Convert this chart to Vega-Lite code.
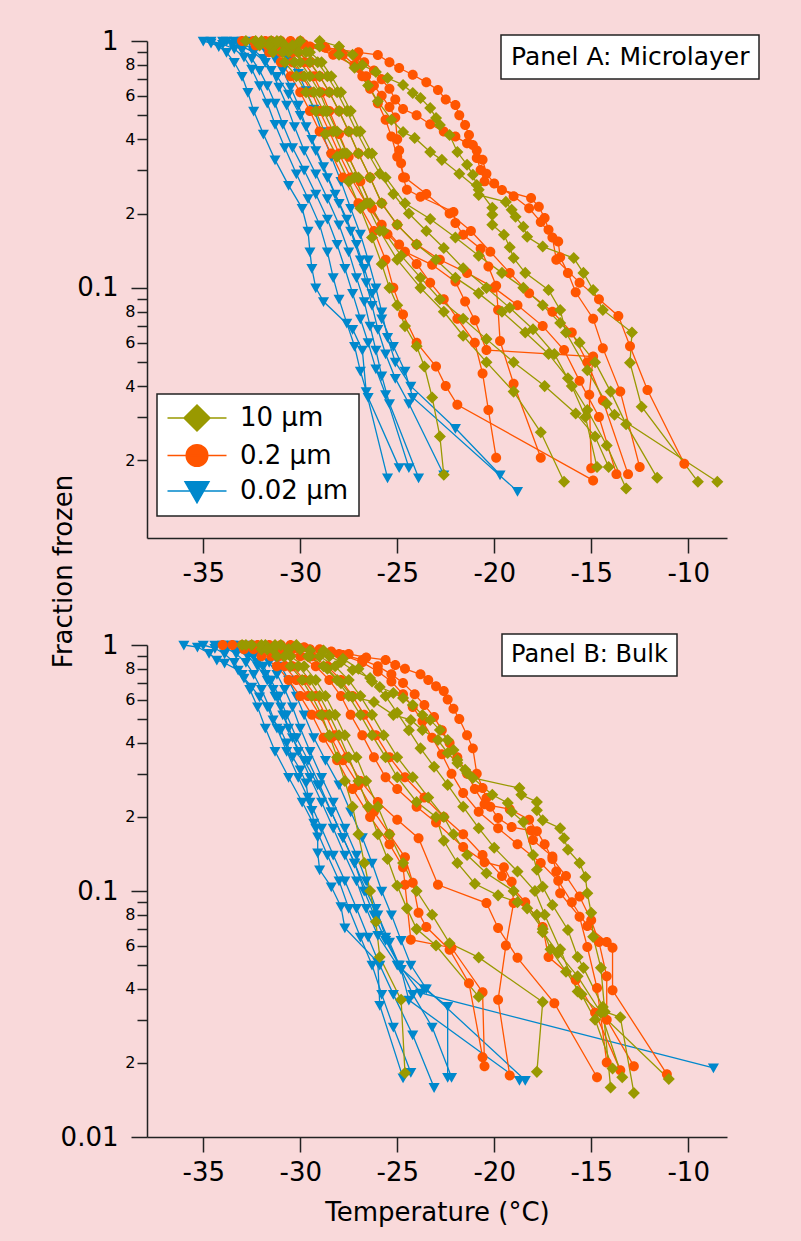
{
"$schema":"https://vega.github.io/schema/vega-lite/v6.json",
"autosize":{"type":"none"},
"padding":{"left":147,"top":41,"right":654,"bottom":1200},
"background":"#f9d9da",
"spacing":107,
"bounds":"flush",
"datasets":{
"la":[{"panel":"Panel A: Microlayer"}],
"lb":[{"panel":"Panel B: Bulk"}],
"A":[
{"s":"b","c":1,"x":-35,"y":1},{"s":"b","c":1,"x":-34.6,"y":0.98},{"s":"b","c":1,"x":-34.2,"y":0.95},{"s":"b","c":1,"x":-33.8,"y":0.9},{"s":"b","c":1,"x":-33.4,"y":0.82},{"s":"b","c":1,"x":-33,"y":0.72},{"s":"b","c":1,"x":-32.7,"y":0.62},{"s":"b","c":1,"x":-32.4,"y":0.52},{"s":"b","c":1,"x":-31.9,"y":0.42},{"s":"b","c":1,"x":-31.3,"y":0.33},{"s":"b","c":1,"x":-30.6,"y":0.26},{"s":"b","c":1,"x":-29.9,"y":0.21},{"s":"b","c":1,"x":-29.6,"y":0.17},{"s":"b","c":1,"x":-29.5,"y":0.14},{"s":"b","c":1,"x":-29.4,"y":0.12},{"s":"b","c":1,"x":-29.2,"y":0.1},{"s":"b","c":1,"x":-28.8,"y":0.088},{"s":"b","c":1,"x":-27.3,"y":0.068},{"s":"b","c":1,"x":-26.8,"y":0.056},{"s":"b","c":1,"x":-26.6,"y":0.038},{"s":"b","c":1,"x":-25.5,"y":0.017},
{"s":"b","c":2,"x":-34.6,"y":1},{"s":"b","c":2,"x":-34,"y":0.97},{"s":"b","c":2,"x":-33.4,"y":0.93},{"s":"b","c":2,"x":-32.9,"y":0.86},{"s":"b","c":2,"x":-32.5,"y":0.77},{"s":"b","c":2,"x":-32.1,"y":0.66},{"s":"b","c":2,"x":-31.7,"y":0.56},{"s":"b","c":2,"x":-31.3,"y":0.46},{"s":"b","c":2,"x":-30.8,"y":0.37},{"s":"b","c":2,"x":-30.2,"y":0.29},{"s":"b","c":2,"x":-29.6,"y":0.23},{"s":"b","c":2,"x":-29,"y":0.18},{"s":"b","c":2,"x":-28.6,"y":0.14},{"s":"b","c":2,"x":-28.3,"y":0.11},{"s":"b","c":2,"x":-28,"y":0.09},{"s":"b","c":2,"x":-27.6,"y":0.072},{"s":"b","c":2,"x":-27.2,"y":0.058},{"s":"b","c":2,"x":-26.9,"y":0.046},{"s":"b","c":2,"x":-26.5,"y":0.036},{"s":"b","c":2,"x":-24.9,"y":0.0187},
{"s":"b","c":3,"x":-34,"y":1},{"s":"b","c":3,"x":-33.5,"y":0.97},{"s":"b","c":3,"x":-33,"y":0.92},{"s":"b","c":3,"x":-32.5,"y":0.85},{"s":"b","c":3,"x":-32.1,"y":0.76},{"s":"b","c":3,"x":-31.7,"y":0.66},{"s":"b","c":3,"x":-31.3,"y":0.56},{"s":"b","c":3,"x":-30.9,"y":0.46},{"s":"b","c":3,"x":-30.4,"y":0.37},{"s":"b","c":3,"x":-29.8,"y":0.3},{"s":"b","c":3,"x":-29.2,"y":0.24},{"s":"b","c":3,"x":-28.6,"y":0.19},{"s":"b","c":3,"x":-28.1,"y":0.15},{"s":"b","c":3,"x":-27.7,"y":0.12},{"s":"b","c":3,"x":-27.3,"y":0.095},{"s":"b","c":3,"x":-26.9,"y":0.075},{"s":"b","c":3,"x":-26.5,"y":0.06},{"s":"b","c":3,"x":-26.1,"y":0.047},{"s":"b","c":3,"x":-25.6,"y":0.037},{"s":"b","c":3,"x":-24.4,"y":0.0187},
{"s":"b","c":4,"x":-33.4,"y":1},{"s":"b","c":4,"x":-32.9,"y":0.97},{"s":"b","c":4,"x":-32.4,"y":0.92},{"s":"b","c":4,"x":-31.9,"y":0.85},{"s":"b","c":4,"x":-31.5,"y":0.76},{"s":"b","c":4,"x":-31.1,"y":0.65},{"s":"b","c":4,"x":-30.7,"y":0.55},{"s":"b","c":4,"x":-30.3,"y":0.45},{"s":"b","c":4,"x":-29.8,"y":0.36},{"s":"b","c":4,"x":-29.2,"y":0.29},{"s":"b","c":4,"x":-28.6,"y":0.23},{"s":"b","c":4,"x":-28,"y":0.18},{"s":"b","c":4,"x":-27.5,"y":0.14},{"s":"b","c":4,"x":-27.1,"y":0.11},{"s":"b","c":4,"x":-26.7,"y":0.088},{"s":"b","c":4,"x":-26.4,"y":0.07},{"s":"b","c":4,"x":-26.1,"y":0.056},{"s":"b","c":4,"x":-25.8,"y":0.044},{"s":"b","c":4,"x":-25.4,"y":0.034},{"s":"b","c":4,"x":-23.9,"y":0.017},
{"s":"b","c":5,"x":-33,"y":1},{"s":"b","c":5,"x":-32.4,"y":0.97},{"s":"b","c":5,"x":-31.8,"y":0.92},{"s":"b","c":5,"x":-31.3,"y":0.85},{"s":"b","c":5,"x":-30.9,"y":0.76},{"s":"b","c":5,"x":-30.5,"y":0.65},{"s":"b","c":5,"x":-30.1,"y":0.55},{"s":"b","c":5,"x":-29.7,"y":0.45},{"s":"b","c":5,"x":-29.2,"y":0.36},{"s":"b","c":5,"x":-28.6,"y":0.28},{"s":"b","c":5,"x":-28,"y":0.22},{"s":"b","c":5,"x":-27.4,"y":0.17},{"s":"b","c":5,"x":-26.9,"y":0.13},{"s":"b","c":5,"x":-26.6,"y":0.105},{"s":"b","c":5,"x":-26.3,"y":0.085},{"s":"b","c":5,"x":-26,"y":0.068},{"s":"b","c":5,"x":-25.6,"y":0.054},{"s":"b","c":5,"x":-25.1,"y":0.043},{"s":"b","c":5,"x":-24.4,"y":0.034},{"s":"b","c":5,"x":-22.6,"y":0.0175},
{"s":"b","c":6,"x":-32.6,"y":1},{"s":"b","c":6,"x":-31.9,"y":0.97},{"s":"b","c":6,"x":-31.2,"y":0.92},{"s":"b","c":6,"x":-30.6,"y":0.84},{"s":"b","c":6,"x":-30.1,"y":0.74},{"s":"b","c":6,"x":-29.7,"y":0.63},{"s":"b","c":6,"x":-29.3,"y":0.53},{"s":"b","c":6,"x":-28.9,"y":0.43},{"s":"b","c":6,"x":-28.4,"y":0.34},{"s":"b","c":6,"x":-27.9,"y":0.27},{"s":"b","c":6,"x":-27.4,"y":0.21},{"s":"b","c":6,"x":-26.9,"y":0.165},{"s":"b","c":6,"x":-26.5,"y":0.13},{"s":"b","c":6,"x":-26.1,"y":0.1},{"s":"b","c":6,"x":-25.8,"y":0.08},{"s":"b","c":6,"x":-25.5,"y":0.063},{"s":"b","c":6,"x":-25.1,"y":0.05},{"s":"b","c":6,"x":-24.3,"y":0.04},{"s":"b","c":6,"x":-22,"y":0.027},{"s":"b","c":6,"x":-19.7,"y":0.0175},
{"s":"b","c":7,"x":-33.8,"y":1},{"s":"b","c":7,"x":-33.1,"y":0.96},{"s":"b","c":7,"x":-32.4,"y":0.9},{"s":"b","c":7,"x":-31.8,"y":0.82},{"s":"b","c":7,"x":-31.2,"y":0.72},{"s":"b","c":7,"x":-30.6,"y":0.61},{"s":"b","c":7,"x":-30,"y":0.5},{"s":"b","c":7,"x":-29.4,"y":0.4},{"s":"b","c":7,"x":-28.8,"y":0.31},{"s":"b","c":7,"x":-28.2,"y":0.24},{"s":"b","c":7,"x":-27.6,"y":0.19},{"s":"b","c":7,"x":-27.1,"y":0.15},{"s":"b","c":7,"x":-26.7,"y":0.12},{"s":"b","c":7,"x":-26.3,"y":0.095},{"s":"b","c":7,"x":-25.8,"y":0.075},{"s":"b","c":7,"x":-25.2,"y":0.058},{"s":"b","c":7,"x":-24.6,"y":0.046},{"s":"b","c":7,"x":-24.2,"y":0.036},{"s":"b","c":7,"x":-18.8,"y":0.015},
{"s":"o","c":1,"x":-30.5,"y":1},{"s":"o","c":1,"x":-28.7,"y":0.94},{"s":"o","c":1,"x":-27,"y":0.9},{"s":"o","c":1,"x":-26,"y":0.878},{"s":"o","c":1,"x":-25.4,"y":0.82},{"s":"o","c":1,"x":-24.9,"y":0.777},{"s":"o","c":1,"x":-24.2,"y":0.73},{"s":"o","c":1,"x":-23.5,"y":0.68},{"s":"o","c":1,"x":-22.9,"y":0.633},{"s":"o","c":1,"x":-22.5,"y":0.58},{"s":"o","c":1,"x":-22,"y":0.55},{"s":"o","c":1,"x":-21.8,"y":0.5},{"s":"o","c":1,"x":-21.5,"y":0.457},{"s":"o","c":1,"x":-21.3,"y":0.416},{"s":"o","c":1,"x":-21.1,"y":0.379},{"s":"o","c":1,"x":-20.9,"y":0.336},{"s":"o","c":1,"x":-20.7,"y":0.3},{"s":"o","c":1,"x":-20.5,"y":0.27},{"s":"o","c":1,"x":-19.6,"y":0.249},{"s":"o","c":1,"x":-18.1,"y":0.231},{"s":"o","c":1,"x":-17.7,"y":0.213},{"s":"o","c":1,"x":-17.4,"y":0.192},{"s":"o","c":1,"x":-17.2,"y":0.172},{"s":"o","c":1,"x":-16.7,"y":0.154},{"s":"o","c":1,"x":-16.6,"y":0.133},{"s":"o","c":1,"x":-16.2,"y":0.115},{"s":"o","c":1,"x":-15.8,"y":0.096},{"s":"o","c":1,"x":-14.9,"y":0.075},{"s":"o","c":1,"x":-14.4,"y":0.057},{"s":"o","c":1,"x":-13.5,"y":0.038},{"s":"o","c":1,"x":-12.5,"y":0.0188},
{"s":"o","c":2,"x":-31.5,"y":1},{"s":"o","c":2,"x":-29.8,"y":0.97},{"s":"o","c":2,"x":-28,"y":0.92},{"s":"o","c":2,"x":-27.1,"y":0.87},{"s":"o","c":2,"x":-26.7,"y":0.82},{"s":"o","c":2,"x":-26.2,"y":0.76},{"s":"o","c":2,"x":-25.8,"y":0.7},{"s":"o","c":2,"x":-25.4,"y":0.64},{"s":"o","c":2,"x":-25.1,"y":0.58},{"s":"o","c":2,"x":-24.7,"y":0.53},{"s":"o","c":2,"x":-24,"y":0.5},{"s":"o","c":2,"x":-23.3,"y":0.46},{"s":"o","c":2,"x":-22.6,"y":0.43},{"s":"o","c":2,"x":-22,"y":0.41},{"s":"o","c":2,"x":-21.4,"y":0.385},{"s":"o","c":2,"x":-20.9,"y":0.36},{"s":"o","c":2,"x":-20.6,"y":0.33},{"s":"o","c":2,"x":-20.4,"y":0.29},{"s":"o","c":2,"x":-20,"y":0.265},{"s":"o","c":2,"x":-19,"y":0.235},{"s":"o","c":2,"x":-18.2,"y":0.21},{"s":"o","c":2,"x":-17.6,"y":0.185},{"s":"o","c":2,"x":-17,"y":0.16},{"s":"o","c":2,"x":-16.8,"y":0.13},{"s":"o","c":2,"x":-15.6,"y":0.105},{"s":"o","c":2,"x":-14.6,"y":0.09},{"s":"o","c":2,"x":-13.6,"y":0.077},{"s":"o","c":2,"x":-13,"y":0.058},{"s":"o","c":2,"x":-12.1,"y":0.0386},{"s":"o","c":2,"x":-10.2,"y":0.0194},
{"s":"o","c":3,"x":-31,"y":1},{"s":"o","c":3,"x":-29.5,"y":0.95},{"s":"o","c":3,"x":-28.3,"y":0.88},{"s":"o","c":3,"x":-27,"y":0.78},{"s":"o","c":3,"x":-26.6,"y":0.72},{"s":"o","c":3,"x":-26.2,"y":0.66},{"s":"o","c":3,"x":-25.8,"y":0.6},{"s":"o","c":3,"x":-25.4,"y":0.54},{"s":"o","c":3,"x":-25.1,"y":0.49},{"s":"o","c":3,"x":-25,"y":0.4},{"s":"o","c":3,"x":-24.9,"y":0.36},{"s":"o","c":3,"x":-24.8,"y":0.32},{"s":"o","c":3,"x":-24.7,"y":0.28},{"s":"o","c":3,"x":-24.5,"y":0.25},{"s":"o","c":3,"x":-23.8,"y":0.234},{"s":"o","c":3,"x":-22.1,"y":0.203},{"s":"o","c":3,"x":-22,"y":0.183},{"s":"o","c":3,"x":-21.6,"y":0.164},{"s":"o","c":3,"x":-20.7,"y":0.144},{"s":"o","c":3,"x":-20.3,"y":0.122},{"s":"o","c":3,"x":-19.9,"y":0.102},{"s":"o","c":3,"x":-19.8,"y":0.0813},{"s":"o","c":3,"x":-19.7,"y":0.0609},{"s":"o","c":3,"x":-19,"y":0.0409},{"s":"o","c":3,"x":-17.6,"y":0.0205},
{"s":"o","c":4,"x":-33,"y":1},{"s":"o","c":4,"x":-32.3,"y":0.96},{"s":"o","c":4,"x":-31.6,"y":0.9},{"s":"o","c":4,"x":-31,"y":0.82},{"s":"o","c":4,"x":-30.5,"y":0.72},{"s":"o","c":4,"x":-30,"y":0.62},{"s":"o","c":4,"x":-29.5,"y":0.52},{"s":"o","c":4,"x":-29,"y":0.43},{"s":"o","c":4,"x":-28.4,"y":0.35},{"s":"o","c":4,"x":-27.8,"y":0.28},{"s":"o","c":4,"x":-27,"y":0.22},{"s":"o","c":4,"x":-26.2,"y":0.17},{"s":"o","c":4,"x":-25.6,"y":0.13},{"s":"o","c":4,"x":-25.2,"y":0.1},{"s":"o","c":4,"x":-24.7,"y":0.078},{"s":"o","c":4,"x":-24,"y":0.06},{"s":"o","c":4,"x":-23,"y":0.048},{"s":"o","c":4,"x":-22.5,"y":0.04},{"s":"o","c":4,"x":-21.9,"y":0.0336},{"s":"o","c":4,"x":-14.9,"y":0.0166},
{"s":"o","c":5,"x":-32.4,"y":1},{"s":"o","c":5,"x":-31.7,"y":0.96},{"s":"o","c":5,"x":-31,"y":0.9},{"s":"o","c":5,"x":-30.4,"y":0.82},{"s":"o","c":5,"x":-29.9,"y":0.72},{"s":"o","c":5,"x":-29.4,"y":0.62},{"s":"o","c":5,"x":-29,"y":0.52},{"s":"o","c":5,"x":-28.5,"y":0.43},{"s":"o","c":5,"x":-28,"y":0.35},{"s":"o","c":5,"x":-27.4,"y":0.28},{"s":"o","c":5,"x":-26.6,"y":0.22},{"s":"o","c":5,"x":-25.8,"y":0.18},{"s":"o","c":5,"x":-24.9,"y":0.15},{"s":"o","c":5,"x":-24,"y":0.125},{"s":"o","c":5,"x":-23.3,"y":0.105},{"s":"o","c":5,"x":-22.6,"y":0.09},{"s":"o","c":5,"x":-21.9,"y":0.075},{"s":"o","c":5,"x":-21,"y":0.06},{"s":"o","c":5,"x":-20.6,"y":0.045},{"s":"o","c":5,"x":-20.3,"y":0.032},{"s":"o","c":5,"x":-19.9,"y":0.0205},
{"s":"o","c":6,"x":-31.8,"y":1},{"s":"o","c":6,"x":-31.1,"y":0.96},{"s":"o","c":6,"x":-30.4,"y":0.9},{"s":"o","c":6,"x":-29.8,"y":0.82},{"s":"o","c":6,"x":-29.3,"y":0.72},{"s":"o","c":6,"x":-28.9,"y":0.62},{"s":"o","c":6,"x":-28.5,"y":0.52},{"s":"o","c":6,"x":-28,"y":0.42},{"s":"o","c":6,"x":-27.5,"y":0.34},{"s":"o","c":6,"x":-26.9,"y":0.27},{"s":"o","c":6,"x":-26.3,"y":0.21},{"s":"o","c":6,"x":-25.5,"y":0.165},{"s":"o","c":6,"x":-24.6,"y":0.14},{"s":"o","c":6,"x":-23.2,"y":0.124},{"s":"o","c":6,"x":-22,"y":0.106},{"s":"o","c":6,"x":-21.5,"y":0.088},{"s":"o","c":6,"x":-21,"y":0.074},{"s":"o","c":6,"x":-20.4,"y":0.056},{"s":"o","c":6,"x":-14.9,"y":0.0527},{"s":"o","c":6,"x":-15.1,"y":0.0369},{"s":"o","c":6,"x":-15,"y":0.0186},
{"s":"o","c":7,"x":-31.5,"y":1},{"s":"o","c":7,"x":-30.8,"y":0.96},{"s":"o","c":7,"x":-30.1,"y":0.9},{"s":"o","c":7,"x":-29.5,"y":0.82},{"s":"o","c":7,"x":-29,"y":0.72},{"s":"o","c":7,"x":-28.5,"y":0.62},{"s":"o","c":7,"x":-28,"y":0.52},{"s":"o","c":7,"x":-27.5,"y":0.43},{"s":"o","c":7,"x":-27,"y":0.35},{"s":"o","c":7,"x":-26.4,"y":0.28},{"s":"o","c":7,"x":-25.8,"y":0.22},{"s":"o","c":7,"x":-25,"y":0.18},{"s":"o","c":7,"x":-24,"y":0.15},{"s":"o","c":7,"x":-22.8,"y":0.13},{"s":"o","c":7,"x":-21.4,"y":0.115},{"s":"o","c":7,"x":-20,"y":0.1},{"s":"o","c":7,"x":-18.8,"y":0.085},{"s":"o","c":7,"x":-17.5,"y":0.07},{"s":"o","c":7,"x":-16.4,"y":0.056},{"s":"o","c":7,"x":-15.6,"y":0.042},{"s":"o","c":7,"x":-14.6,"y":0.03},{"s":"o","c":7,"x":-13.7,"y":0.0176},
{"s":"o","c":8,"x":-30,"y":1},{"s":"o","c":8,"x":-28.8,"y":0.95},{"s":"o","c":8,"x":-27.8,"y":0.88},{"s":"o","c":8,"x":-27.2,"y":0.8},{"s":"o","c":8,"x":-26.8,"y":0.72},{"s":"o","c":8,"x":-26.4,"y":0.64},{"s":"o","c":8,"x":-26,"y":0.56},{"s":"o","c":8,"x":-25.6,"y":0.48},{"s":"o","c":8,"x":-25.3,"y":0.41},{"s":"o","c":8,"x":-25,"y":0.34},{"s":"o","c":8,"x":-24.6,"y":0.28},{"s":"o","c":8,"x":-23.5,"y":0.24},{"s":"o","c":8,"x":-22.3,"y":0.2},{"s":"o","c":8,"x":-21.2,"y":0.17},{"s":"o","c":8,"x":-20.2,"y":0.14},{"s":"o","c":8,"x":-19.2,"y":0.115},{"s":"o","c":8,"x":-18.2,"y":0.095},{"s":"o","c":8,"x":-17,"y":0.08},{"s":"o","c":8,"x":-16,"y":0.066},{"s":"o","c":8,"x":-15.2,"y":0.05},{"s":"o","c":8,"x":-14.4,"y":0.035},{"s":"o","c":8,"x":-13.1,"y":0.0176},
{"s":"g","c":1,"x":-29,"y":1},{"s":"g","c":1,"x":-28,"y":0.95},{"s":"g","c":1,"x":-27.3,"y":0.88},{"s":"g","c":1,"x":-26.8,"y":0.8},{"s":"g","c":1,"x":-26.1,"y":0.749},{"s":"g","c":1,"x":-25.5,"y":0.708},{"s":"g","c":1,"x":-24.7,"y":0.664},{"s":"g","c":1,"x":-24.2,"y":0.616},{"s":"g","c":1,"x":-23.8,"y":0.588},{"s":"g","c":1,"x":-23.3,"y":0.535},{"s":"g","c":1,"x":-23,"y":0.488},{"s":"g","c":1,"x":-22.8,"y":0.457},{"s":"g","c":1,"x":-22.3,"y":0.416},{"s":"g","c":1,"x":-21.9,"y":0.355},{"s":"g","c":1,"x":-21.4,"y":0.315},{"s":"g","c":1,"x":-21.1,"y":0.287},{"s":"g","c":1,"x":-20.9,"y":0.261},{"s":"g","c":1,"x":-20.8,"y":0.238},{"s":"g","c":1,"x":-19.4,"y":0.223},{"s":"g","c":1,"x":-19.1,"y":0.207},{"s":"g","c":1,"x":-18.9,"y":0.194},{"s":"g","c":1,"x":-18.5,"y":0.177},{"s":"g","c":1,"x":-18.3,"y":0.161},{"s":"g","c":1,"x":-17.5,"y":0.147},{"s":"g","c":1,"x":-15.9,"y":0.132},{"s":"g","c":1,"x":-15.4,"y":0.115},{"s":"g","c":1,"x":-14.9,"y":0.098},{"s":"g","c":1,"x":-14.4,"y":0.0814},{"s":"g","c":1,"x":-12.9,"y":0.0659},{"s":"g","c":1,"x":-13,"y":0.0497},{"s":"g","c":1,"x":-12.4,"y":0.033},{"s":"g","c":1,"x":-9.5,"y":0.0164},
{"s":"g","c":2,"x":-30,"y":1},{"s":"g","c":2,"x":-29,"y":0.95},{"s":"g","c":2,"x":-28,"y":0.88},{"s":"g","c":2,"x":-27.2,"y":0.78},{"s":"g","c":2,"x":-26.5,"y":0.66},{"s":"g","c":2,"x":-26,"y":0.57},{"s":"g","c":2,"x":-25.3,"y":0.48},{"s":"g","c":2,"x":-24.7,"y":0.428},{"s":"g","c":2,"x":-24.1,"y":0.405},{"s":"g","c":2,"x":-23.3,"y":0.355},{"s":"g","c":2,"x":-22.7,"y":0.33},{"s":"g","c":2,"x":-21.8,"y":0.29},{"s":"g","c":2,"x":-20.8,"y":0.25},{"s":"g","c":2,"x":-20.1,"y":0.211},{"s":"g","c":2,"x":-20.1,"y":0.198},{"s":"g","c":2,"x":-20.1,"y":0.18},{"s":"g","c":2,"x":-19.5,"y":0.164},{"s":"g","c":2,"x":-19.2,"y":0.146},{"s":"g","c":2,"x":-19,"y":0.132},{"s":"g","c":2,"x":-18.4,"y":0.115},{"s":"g","c":2,"x":-17.2,"y":0.098},{"s":"g","c":2,"x":-16.6,"y":0.0814},{"s":"g","c":2,"x":-16.3,"y":0.0659},{"s":"g","c":2,"x":-15.2,"y":0.0464},{"s":"g","c":2,"x":-14.2,"y":0.0339},{"s":"g","c":2,"x":-13.8,"y":0.0306},{"s":"g","c":2,"x":-8.5,"y":0.0164},
{"s":"g","c":3,"x":-31,"y":1},{"s":"g","c":3,"x":-30.2,"y":0.96},{"s":"g","c":3,"x":-29.5,"y":0.9},{"s":"g","c":3,"x":-28.9,"y":0.82},{"s":"g","c":3,"x":-28.4,"y":0.72},{"s":"g","c":3,"x":-27.9,"y":0.62},{"s":"g","c":3,"x":-27.4,"y":0.52},{"s":"g","c":3,"x":-26.9,"y":0.43},{"s":"g","c":3,"x":-26.3,"y":0.35},{"s":"g","c":3,"x":-25.6,"y":0.28},{"s":"g","c":3,"x":-24.6,"y":0.22},{"s":"g","c":3,"x":-23.3,"y":0.19},{"s":"g","c":3,"x":-22,"y":0.16},{"s":"g","c":3,"x":-20.8,"y":0.135},{"s":"g","c":3,"x":-19.6,"y":0.115},{"s":"g","c":3,"x":-18.5,"y":0.1},{"s":"g","c":3,"x":-17.5,"y":0.085},{"s":"g","c":3,"x":-16.6,"y":0.072},{"s":"g","c":3,"x":-15.6,"y":0.06},{"s":"g","c":3,"x":-14.8,"y":0.05},{"s":"g","c":3,"x":-14,"y":0.038},{"s":"g","c":3,"x":-13.2,"y":0.028},{"s":"g","c":3,"x":-11.6,"y":0.017},
{"s":"g","c":4,"x":-31.5,"y":1},{"s":"g","c":4,"x":-30.8,"y":0.96},{"s":"g","c":4,"x":-30.1,"y":0.9},{"s":"g","c":4,"x":-29.5,"y":0.82},{"s":"g","c":4,"x":-29,"y":0.72},{"s":"g","c":4,"x":-28.5,"y":0.62},{"s":"g","c":4,"x":-28,"y":0.52},{"s":"g","c":4,"x":-27.5,"y":0.43},{"s":"g","c":4,"x":-27,"y":0.35},{"s":"g","c":4,"x":-26.4,"y":0.28},{"s":"g","c":4,"x":-25.8,"y":0.22},{"s":"g","c":4,"x":-25,"y":0.18},{"s":"g","c":4,"x":-24,"y":0.15},{"s":"g","c":4,"x":-23,"y":0.13},{"s":"g","c":4,"x":-22,"y":0.11},{"s":"g","c":4,"x":-20.8,"y":0.095},{"s":"g","c":4,"x":-19.6,"y":0.08},{"s":"g","c":4,"x":-18.4,"y":0.066},{"s":"g","c":4,"x":-17.2,"y":0.054},{"s":"g","c":4,"x":-16.2,"y":0.043},{"s":"g","c":4,"x":-15.2,"y":0.032},{"s":"g","c":4,"x":-14.2,"y":0.023},{"s":"g","c":4,"x":-13.2,"y":0.0154},
{"s":"g","c":5,"x":-32,"y":1},{"s":"g","c":5,"x":-31.3,"y":0.96},{"s":"g","c":5,"x":-30.6,"y":0.9},{"s":"g","c":5,"x":-30,"y":0.82},{"s":"g","c":5,"x":-29.5,"y":0.72},{"s":"g","c":5,"x":-29,"y":0.62},{"s":"g","c":5,"x":-28.6,"y":0.52},{"s":"g","c":5,"x":-28.1,"y":0.43},{"s":"g","c":5,"x":-27.6,"y":0.35},{"s":"g","c":5,"x":-27,"y":0.28},{"s":"g","c":5,"x":-26.4,"y":0.22},{"s":"g","c":5,"x":-25.7,"y":0.17},{"s":"g","c":5,"x":-24.8,"y":0.135},{"s":"g","c":5,"x":-23.8,"y":0.11},{"s":"g","c":5,"x":-22.8,"y":0.09},{"s":"g","c":5,"x":-21.6,"y":0.075},{"s":"g","c":5,"x":-20.4,"y":0.062},{"s":"g","c":5,"x":-19,"y":0.05},{"s":"g","c":5,"x":-17.4,"y":0.04},{"s":"g","c":5,"x":-15.8,"y":0.031},{"s":"g","c":5,"x":-14.8,"y":0.025},{"s":"g","c":5,"x":-14.1,"y":0.0188},
{"s":"g","c":6,"x":-32.3,"y":1},{"s":"g","c":6,"x":-31.6,"y":0.96},{"s":"g","c":6,"x":-30.9,"y":0.9},{"s":"g","c":6,"x":-30.3,"y":0.82},{"s":"g","c":6,"x":-29.8,"y":0.72},{"s":"g","c":6,"x":-29.3,"y":0.62},{"s":"g","c":6,"x":-28.8,"y":0.52},{"s":"g","c":6,"x":-28.3,"y":0.43},{"s":"g","c":6,"x":-27.8,"y":0.35},{"s":"g","c":6,"x":-27.2,"y":0.28},{"s":"g","c":6,"x":-26.6,"y":0.22},{"s":"g","c":6,"x":-25.9,"y":0.17},{"s":"g","c":6,"x":-25,"y":0.13},{"s":"g","c":6,"x":-23.8,"y":0.1},{"s":"g","c":6,"x":-22.6,"y":0.08},{"s":"g","c":6,"x":-21.6,"y":0.064},{"s":"g","c":6,"x":-20.4,"y":0.05},{"s":"g","c":6,"x":-19,"y":0.038},{"s":"g","c":6,"x":-17.6,"y":0.026},{"s":"g","c":6,"x":-16.4,"y":0.0164},
{"s":"g","c":7,"x":-32.8,"y":1},{"s":"g","c":7,"x":-32.1,"y":0.96},{"s":"g","c":7,"x":-31.4,"y":0.9},{"s":"g","c":7,"x":-30.8,"y":0.82},{"s":"g","c":7,"x":-30.2,"y":0.72},{"s":"g","c":7,"x":-29.7,"y":0.62},{"s":"g","c":7,"x":-29.2,"y":0.52},{"s":"g","c":7,"x":-28.7,"y":0.42},{"s":"g","c":7,"x":-28.1,"y":0.34},{"s":"g","c":7,"x":-27.5,"y":0.27},{"s":"g","c":7,"x":-26.9,"y":0.21},{"s":"g","c":7,"x":-26.3,"y":0.16},{"s":"g","c":7,"x":-25.8,"y":0.125},{"s":"g","c":7,"x":-25.4,"y":0.1},{"s":"g","c":7,"x":-25,"y":0.085},{"s":"g","c":7,"x":-24.6,"y":0.07},{"s":"g","c":7,"x":-24,"y":0.058},{"s":"g","c":7,"x":-23.6,"y":0.048},{"s":"g","c":7,"x":-23.2,"y":0.036},{"s":"g","c":7,"x":-22.8,"y":0.025},{"s":"g","c":7,"x":-22.6,"y":0.0175},
{"s":"g","c":8,"x":-31.2,"y":1},{"s":"g","c":8,"x":-30.4,"y":0.96},{"s":"g","c":8,"x":-29.7,"y":0.9},{"s":"g","c":8,"x":-29.1,"y":0.82},{"s":"g","c":8,"x":-28.6,"y":0.72},{"s":"g","c":8,"x":-28.1,"y":0.62},{"s":"g","c":8,"x":-27.6,"y":0.52},{"s":"g","c":8,"x":-27.1,"y":0.43},{"s":"g","c":8,"x":-26.5,"y":0.35},{"s":"g","c":8,"x":-25.9,"y":0.29},{"s":"g","c":8,"x":-25.2,"y":0.24},{"s":"g","c":8,"x":-24.4,"y":0.2},{"s":"g","c":8,"x":-23.5,"y":0.17},{"s":"g","c":8,"x":-22.6,"y":0.145},{"s":"g","c":8,"x":-21.6,"y":0.12},{"s":"g","c":8,"x":-20.4,"y":0.1},{"s":"g","c":8,"x":-19.2,"y":0.083},{"s":"g","c":8,"x":-18,"y":0.068},{"s":"g","c":8,"x":-16.9,"y":0.054},{"s":"g","c":8,"x":-16,"y":0.04},{"s":"g","c":8,"x":-15.3,"y":0.03},{"s":"g","c":8,"x":-14.7,"y":0.0188}
],
"B":[
{"s":"b","c":1,"x":-36,"y":1},{"s":"b","c":1,"x":-35.3,"y":0.981},{"s":"b","c":1,"x":-34.7,"y":0.926},{"s":"b","c":1,"x":-34.3,"y":0.869},{"s":"b","c":1,"x":-33.9,"y":0.845},{"s":"b","c":1,"x":-33.2,"y":0.791},{"s":"b","c":1,"x":-32.9,"y":0.734},{"s":"b","c":1,"x":-32.5,"y":0.675},{"s":"b","c":1,"x":-32.1,"y":0.615},{"s":"b","c":1,"x":-31.7,"y":0.56},{"s":"b","c":1,"x":-31.4,"y":0.496},{"s":"b","c":1,"x":-31,"y":0.451},{"s":"b","c":1,"x":-30.7,"y":0.4},{"s":"b","c":1,"x":-30.4,"y":0.351},{"s":"b","c":1,"x":-30,"y":0.311},{"s":"b","c":1,"x":-29.7,"y":0.275},{"s":"b","c":1,"x":-29.6,"y":0.241},{"s":"b","c":1,"x":-29.4,"y":0.213},{"s":"b","c":1,"x":-29.3,"y":0.189},{"s":"b","c":1,"x":-29.1,"y":0.166},{"s":"b","c":1,"x":-29.1,"y":0.143},{"s":"b","c":1,"x":-29,"y":0.122},{"s":"b","c":1,"x":-28.4,"y":0.104},{"s":"b","c":1,"x":-27.9,"y":0.0864},{"s":"b","c":1,"x":-27.7,"y":0.0708},{"s":"b","c":1,"x":-26,"y":0.0513},{"s":"b","c":1,"x":-25.9,"y":0.0343},{"s":"b","c":1,"x":-24.7,"y":0.0174},
{"s":"b","c":2,"x":-35,"y":1},{"s":"b","c":2,"x":-34.4,"y":0.97},{"s":"b","c":2,"x":-33.9,"y":0.92},{"s":"b","c":2,"x":-33.4,"y":0.85},{"s":"b","c":2,"x":-33,"y":0.76},{"s":"b","c":2,"x":-32.6,"y":0.66},{"s":"b","c":2,"x":-32.2,"y":0.56},{"s":"b","c":2,"x":-31.8,"y":0.46},{"s":"b","c":2,"x":-31.3,"y":0.37},{"s":"b","c":2,"x":-30.6,"y":0.29},{"s":"b","c":2,"x":-29.9,"y":0.23},{"s":"b","c":2,"x":-29.2,"y":0.18},{"s":"b","c":2,"x":-28.6,"y":0.14},{"s":"b","c":2,"x":-28,"y":0.11},{"s":"b","c":2,"x":-27.5,"y":0.085},{"s":"b","c":2,"x":-26.9,"y":0.065},{"s":"b","c":2,"x":-26.3,"y":0.05},{"s":"b","c":2,"x":-25.8,"y":0.038},{"s":"b","c":2,"x":-25.2,"y":0.028},{"s":"b","c":2,"x":-24.3,"y":0.0183},
{"s":"b","c":3,"x":-34.4,"y":1},{"s":"b","c":3,"x":-33.8,"y":0.97},{"s":"b","c":3,"x":-33.3,"y":0.92},{"s":"b","c":3,"x":-32.8,"y":0.85},{"s":"b","c":3,"x":-32.4,"y":0.76},{"s":"b","c":3,"x":-32,"y":0.66},{"s":"b","c":3,"x":-31.6,"y":0.56},{"s":"b","c":3,"x":-31.2,"y":0.46},{"s":"b","c":3,"x":-30.7,"y":0.37},{"s":"b","c":3,"x":-30.1,"y":0.29},{"s":"b","c":3,"x":-29.5,"y":0.23},{"s":"b","c":3,"x":-28.9,"y":0.18},{"s":"b","c":3,"x":-28.3,"y":0.14},{"s":"b","c":3,"x":-27.7,"y":0.11},{"s":"b","c":3,"x":-27.1,"y":0.085},{"s":"b","c":3,"x":-26.5,"y":0.065},{"s":"b","c":3,"x":-25.9,"y":0.05},{"s":"b","c":3,"x":-25.2,"y":0.038},{"s":"b","c":3,"x":-24.2,"y":0.026},{"s":"b","c":3,"x":-23.1,"y":0.0159},
{"s":"b","c":4,"x":-33.8,"y":1},{"s":"b","c":4,"x":-33.2,"y":0.97},{"s":"b","c":4,"x":-32.7,"y":0.92},{"s":"b","c":4,"x":-32.2,"y":0.85},{"s":"b","c":4,"x":-31.8,"y":0.76},{"s":"b","c":4,"x":-31.4,"y":0.66},{"s":"b","c":4,"x":-31,"y":0.56},{"s":"b","c":4,"x":-30.6,"y":0.46},{"s":"b","c":4,"x":-30.1,"y":0.37},{"s":"b","c":4,"x":-29.5,"y":0.29},{"s":"b","c":4,"x":-28.9,"y":0.23},{"s":"b","c":4,"x":-28.3,"y":0.18},{"s":"b","c":4,"x":-27.7,"y":0.14},{"s":"b","c":4,"x":-27.1,"y":0.11},{"s":"b","c":4,"x":-26.6,"y":0.085},{"s":"b","c":4,"x":-26,"y":0.066},{"s":"b","c":4,"x":-25,"y":0.05},{"s":"b","c":4,"x":-23.6,"y":0.04},{"s":"b","c":4,"x":-22.4,"y":0.034},{"s":"b","c":4,"x":-22.4,"y":0.0175},
{"s":"b","c":5,"x":-33.2,"y":1},{"s":"b","c":5,"x":-32.6,"y":0.97},{"s":"b","c":5,"x":-32.1,"y":0.92},{"s":"b","c":5,"x":-31.6,"y":0.85},{"s":"b","c":5,"x":-31.2,"y":0.76},{"s":"b","c":5,"x":-30.8,"y":0.66},{"s":"b","c":5,"x":-30.4,"y":0.56},{"s":"b","c":5,"x":-30,"y":0.46},{"s":"b","c":5,"x":-29.5,"y":0.37},{"s":"b","c":5,"x":-28.9,"y":0.29},{"s":"b","c":5,"x":-28.3,"y":0.23},{"s":"b","c":5,"x":-27.7,"y":0.18},{"s":"b","c":5,"x":-27.1,"y":0.14},{"s":"b","c":5,"x":-26.6,"y":0.11},{"s":"b","c":5,"x":-26.1,"y":0.085},{"s":"b","c":5,"x":-25.6,"y":0.065},{"s":"b","c":5,"x":-24.9,"y":0.05},{"s":"b","c":5,"x":-24.2,"y":0.038},{"s":"b","c":5,"x":-23.2,"y":0.028},{"s":"b","c":5,"x":-22.2,"y":0.0175},
{"s":"b","c":6,"x":-34,"y":1},{"s":"b","c":6,"x":-33.3,"y":0.96},{"s":"b","c":6,"x":-32.7,"y":0.9},{"s":"b","c":6,"x":-32.2,"y":0.82},{"s":"b","c":6,"x":-31.7,"y":0.72},{"s":"b","c":6,"x":-31.3,"y":0.62},{"s":"b","c":6,"x":-30.9,"y":0.52},{"s":"b","c":6,"x":-30.4,"y":0.42},{"s":"b","c":6,"x":-29.8,"y":0.34},{"s":"b","c":6,"x":-29.1,"y":0.27},{"s":"b","c":6,"x":-28.4,"y":0.21},{"s":"b","c":6,"x":-27.8,"y":0.165},{"s":"b","c":6,"x":-27.2,"y":0.13},{"s":"b","c":6,"x":-26.6,"y":0.1},{"s":"b","c":6,"x":-26,"y":0.08},{"s":"b","c":6,"x":-25.4,"y":0.062},{"s":"b","c":6,"x":-24.8,"y":0.048},{"s":"b","c":6,"x":-24.4,"y":0.036},{"s":"b","c":6,"x":-18.7,"y":0.017},
{"s":"b","c":7,"x":-32.6,"y":1},{"s":"b","c":7,"x":-32,"y":0.96},{"s":"b","c":7,"x":-31.5,"y":0.9},{"s":"b","c":7,"x":-31,"y":0.82},{"s":"b","c":7,"x":-30.6,"y":0.72},{"s":"b","c":7,"x":-30.2,"y":0.62},{"s":"b","c":7,"x":-29.8,"y":0.52},{"s":"b","c":7,"x":-29.3,"y":0.42},{"s":"b","c":7,"x":-28.7,"y":0.34},{"s":"b","c":7,"x":-28,"y":0.27},{"s":"b","c":7,"x":-27.4,"y":0.21},{"s":"b","c":7,"x":-26.8,"y":0.165},{"s":"b","c":7,"x":-26.3,"y":0.13},{"s":"b","c":7,"x":-25.8,"y":0.1},{"s":"b","c":7,"x":-25.3,"y":0.08},{"s":"b","c":7,"x":-24.8,"y":0.063},{"s":"b","c":7,"x":-24.3,"y":0.05},{"s":"b","c":7,"x":-23.5,"y":0.04},{"s":"b","c":7,"x":-18.4,"y":0.017},
{"s":"b","c":8,"x":-33.5,"y":1},{"s":"b","c":8,"x":-32.9,"y":0.96},{"s":"b","c":8,"x":-32.4,"y":0.9},{"s":"b","c":8,"x":-31.9,"y":0.82},{"s":"b","c":8,"x":-31.5,"y":0.72},{"s":"b","c":8,"x":-31.1,"y":0.62},{"s":"b","c":8,"x":-30.7,"y":0.52},{"s":"b","c":8,"x":-30.2,"y":0.42},{"s":"b","c":8,"x":-29.6,"y":0.34},{"s":"b","c":8,"x":-29,"y":0.27},{"s":"b","c":8,"x":-28.4,"y":0.21},{"s":"b","c":8,"x":-27.8,"y":0.165},{"s":"b","c":8,"x":-27.2,"y":0.13},{"s":"b","c":8,"x":-26.7,"y":0.1},{"s":"b","c":8,"x":-26.2,"y":0.08},{"s":"b","c":8,"x":-25.6,"y":0.063},{"s":"b","c":8,"x":-24.9,"y":0.05},{"s":"b","c":8,"x":-23.8,"y":0.0385},{"s":"b","c":8,"x":-8.7,"y":0.0191},
{"s":"o","c":1,"x":-32.5,"y":1},{"s":"o","c":1,"x":-31,"y":0.985},{"s":"o","c":1,"x":-29.8,"y":0.98},{"s":"o","c":1,"x":-28.4,"y":0.94},{"s":"o","c":1,"x":-27.5,"y":0.92},{"s":"o","c":1,"x":-26.6,"y":0.89},{"s":"o","c":1,"x":-25.6,"y":0.87},{"s":"o","c":1,"x":-25.1,"y":0.83},{"s":"o","c":1,"x":-24.6,"y":0.8},{"s":"o","c":1,"x":-23.8,"y":0.76},{"s":"o","c":1,"x":-23.4,"y":0.72},{"s":"o","c":1,"x":-23,"y":0.68},{"s":"o","c":1,"x":-22.6,"y":0.65},{"s":"o","c":1,"x":-22.4,"y":0.6},{"s":"o","c":1,"x":-22.1,"y":0.55},{"s":"o","c":1,"x":-21.8,"y":0.5},{"s":"o","c":1,"x":-21.4,"y":0.43},{"s":"o","c":1,"x":-21.1,"y":0.38},{"s":"o","c":1,"x":-20.9,"y":0.3},{"s":"o","c":1,"x":-20.6,"y":0.262},{"s":"o","c":1,"x":-20.4,"y":0.239},{"s":"o","c":1,"x":-20.2,"y":0.22},{"s":"o","c":1,"x":-19.8,"y":0.198},{"s":"o","c":1,"x":-19.1,"y":0.182},{"s":"o","c":1,"x":-18.1,"y":0.176},{"s":"o","c":1,"x":-18,"y":0.161},{"s":"o","c":1,"x":-17,"y":0.138},{"s":"o","c":1,"x":-16.8,"y":0.12},{"s":"o","c":1,"x":-16.6,"y":0.098},{"s":"o","c":1,"x":-15.6,"y":0.0785},{"s":"o","c":1,"x":-15.2,"y":0.0592},{"s":"o","c":1,"x":-14.7,"y":0.0403},{"s":"o","c":1,"x":-14.2,"y":0.0201},
{"s":"o","c":2,"x":-31,"y":1},{"s":"o","c":2,"x":-29.5,"y":0.96},{"s":"o","c":2,"x":-28,"y":0.92},{"s":"o","c":2,"x":-26.8,"y":0.87},{"s":"o","c":2,"x":-26,"y":0.82},{"s":"o","c":2,"x":-25.3,"y":0.76},{"s":"o","c":2,"x":-24.7,"y":0.7},{"s":"o","c":2,"x":-24.1,"y":0.63},{"s":"o","c":2,"x":-23.6,"y":0.57},{"s":"o","c":2,"x":-23.1,"y":0.51},{"s":"o","c":2,"x":-22.7,"y":0.45},{"s":"o","c":2,"x":-22.3,"y":0.4},{"s":"o","c":2,"x":-21.9,"y":0.35},{"s":"o","c":2,"x":-21.4,"y":0.3},{"s":"o","c":2,"x":-21,"y":0.26},{"s":"o","c":2,"x":-20.5,"y":0.225},{"s":"o","c":2,"x":-19.2,"y":0.215},{"s":"o","c":2,"x":-18.2,"y":0.195},{"s":"o","c":2,"x":-17.8,"y":0.175},{"s":"o","c":2,"x":-17.4,"y":0.155},{"s":"o","c":2,"x":-17,"y":0.135},{"s":"o","c":2,"x":-16.3,"y":0.115},{"s":"o","c":2,"x":-15.6,"y":0.095},{"s":"o","c":2,"x":-15,"y":0.076},{"s":"o","c":2,"x":-14.6,"y":0.062},{"s":"o","c":2,"x":-14.2,"y":0.045},{"s":"o","c":2,"x":-14.2,"y":0.03},{"s":"o","c":2,"x":-12.8,"y":0.0194},
{"s":"o","c":3,"x":-30.5,"y":1},{"s":"o","c":3,"x":-29,"y":0.96},{"s":"o","c":3,"x":-27.8,"y":0.91},{"s":"o","c":3,"x":-26.8,"y":0.85},{"s":"o","c":3,"x":-26,"y":0.78},{"s":"o","c":3,"x":-25.3,"y":0.71},{"s":"o","c":3,"x":-24.7,"y":0.63},{"s":"o","c":3,"x":-24.2,"y":0.56},{"s":"o","c":3,"x":-23.7,"y":0.49},{"s":"o","c":3,"x":-23.2,"y":0.42},{"s":"o","c":3,"x":-22.7,"y":0.36},{"s":"o","c":3,"x":-22.2,"y":0.3},{"s":"o","c":3,"x":-21.6,"y":0.25},{"s":"o","c":3,"x":-20.8,"y":0.21},{"s":"o","c":3,"x":-19.8,"y":0.18},{"s":"o","c":3,"x":-18.8,"y":0.155},{"s":"o","c":3,"x":-17.6,"y":0.13},{"s":"o","c":3,"x":-16.7,"y":0.11},{"s":"o","c":3,"x":-16,"y":0.09},{"s":"o","c":3,"x":-15.2,"y":0.072},{"s":"o","c":3,"x":-14.2,"y":0.062},{"s":"o","c":3,"x":-13.9,"y":0.0588},{"s":"o","c":3,"x":-13.9,"y":0.0395},{"s":"o","c":3,"x":-11.1,"y":0.018},
{"s":"o","c":4,"x":-33,"y":1},{"s":"o","c":4,"x":-32,"y":0.96},{"s":"o","c":4,"x":-31.1,"y":0.9},{"s":"o","c":4,"x":-30.4,"y":0.82},{"s":"o","c":4,"x":-29.8,"y":0.72},{"s":"o","c":4,"x":-29.2,"y":0.62},{"s":"o","c":4,"x":-28.7,"y":0.52},{"s":"o","c":4,"x":-28.2,"y":0.43},{"s":"o","c":4,"x":-27.6,"y":0.35},{"s":"o","c":4,"x":-26.9,"y":0.28},{"s":"o","c":4,"x":-26,"y":0.23},{"s":"o","c":4,"x":-25,"y":0.195},{"s":"o","c":4,"x":-23.9,"y":0.164},{"s":"o","c":4,"x":-22.9,"y":0.106},{"s":"o","c":4,"x":-20.4,"y":0.0893},{"s":"o","c":4,"x":-19.8,"y":0.0707},{"s":"o","c":4,"x":-18.8,"y":0.0535},{"s":"o","c":4,"x":-16.9,"y":0.035},{"s":"o","c":4,"x":-14.7,"y":0.0175},
{"s":"o","c":5,"x":-33.5,"y":1},{"s":"o","c":5,"x":-32.4,"y":0.96},{"s":"o","c":5,"x":-31.5,"y":0.9},{"s":"o","c":5,"x":-30.8,"y":0.82},{"s":"o","c":5,"x":-30.2,"y":0.72},{"s":"o","c":5,"x":-29.6,"y":0.62},{"s":"o","c":5,"x":-29,"y":0.52},{"s":"o","c":5,"x":-28.4,"y":0.42},{"s":"o","c":5,"x":-27.8,"y":0.34},{"s":"o","c":5,"x":-27,"y":0.27},{"s":"o","c":5,"x":-26.2,"y":0.21},{"s":"o","c":5,"x":-25.4,"y":0.17},{"s":"o","c":5,"x":-24.6,"y":0.137},{"s":"o","c":5,"x":-24.2,"y":0.108},{"s":"o","c":5,"x":-23.9,"y":0.0816},{"s":"o","c":5,"x":-23.5,"y":0.0714},{"s":"o","c":5,"x":-22.3,"y":0.0577},{"s":"o","c":5,"x":-21.3,"y":0.0422},{"s":"o","c":5,"x":-20.6,"y":0.0211},
{"s":"o","c":6,"x":-34,"y":1},{"s":"o","c":6,"x":-32.9,"y":0.96},{"s":"o","c":6,"x":-32,"y":0.9},{"s":"o","c":6,"x":-31.2,"y":0.82},{"s":"o","c":6,"x":-30.6,"y":0.72},{"s":"o","c":6,"x":-30,"y":0.62},{"s":"o","c":6,"x":-29.4,"y":0.52},{"s":"o","c":6,"x":-28.8,"y":0.42},{"s":"o","c":6,"x":-28.1,"y":0.34},{"s":"o","c":6,"x":-27.3,"y":0.26},{"s":"o","c":6,"x":-26.4,"y":0.2},{"s":"o","c":6,"x":-25.4,"y":0.155},{"s":"o","c":6,"x":-24.7,"y":0.125},{"s":"o","c":6,"x":-24.6,"y":0.106},{"s":"o","c":6,"x":-24.3,"y":0.0634},{"s":"o","c":6,"x":-22.2,"y":0.0588},{"s":"o","c":6,"x":-20.6,"y":0.0388},{"s":"o","c":6,"x":-20.5,"y":0.0194},
{"s":"o","c":7,"x":-32.2,"y":1},{"s":"o","c":7,"x":-31,"y":0.96},{"s":"o","c":7,"x":-30,"y":0.9},{"s":"o","c":7,"x":-29.2,"y":0.82},{"s":"o","c":7,"x":-28.5,"y":0.72},{"s":"o","c":7,"x":-27.9,"y":0.62},{"s":"o","c":7,"x":-27.4,"y":0.52},{"s":"o","c":7,"x":-26.8,"y":0.43},{"s":"o","c":7,"x":-26.2,"y":0.35},{"s":"o","c":7,"x":-25.6,"y":0.29},{"s":"o","c":7,"x":-25,"y":0.26},{"s":"o","c":7,"x":-24,"y":0.22},{"s":"o","c":7,"x":-23,"y":0.19},{"s":"o","c":7,"x":-21.6,"y":0.151},{"s":"o","c":7,"x":-20.5,"y":0.131},{"s":"o","c":7,"x":-19.5,"y":0.125},{"s":"o","c":7,"x":-19.1,"y":0.109},{"s":"o","c":7,"x":-19,"y":0.0894},{"s":"o","c":7,"x":-19.4,"y":0.06},{"s":"o","c":7,"x":-19.8,"y":0.0361},{"s":"o","c":7,"x":-19.2,"y":0.0178},
{"s":"o","c":8,"x":-31.6,"y":1},{"s":"o","c":8,"x":-30.4,"y":0.96},{"s":"o","c":8,"x":-29.4,"y":0.9},{"s":"o","c":8,"x":-28.6,"y":0.82},{"s":"o","c":8,"x":-27.9,"y":0.72},{"s":"o","c":8,"x":-27.3,"y":0.62},{"s":"o","c":8,"x":-26.7,"y":0.52},{"s":"o","c":8,"x":-26.1,"y":0.43},{"s":"o","c":8,"x":-25.4,"y":0.35},{"s":"o","c":8,"x":-24.6,"y":0.29},{"s":"o","c":8,"x":-23.6,"y":0.24},{"s":"o","c":8,"x":-22.6,"y":0.2},{"s":"o","c":8,"x":-21.6,"y":0.17},{"s":"o","c":8,"x":-20.6,"y":0.14},{"s":"o","c":8,"x":-19.6,"y":0.115},{"s":"o","c":8,"x":-18.4,"y":0.09},{"s":"o","c":8,"x":-17.5,"y":0.0714},{"s":"o","c":8,"x":-17.2,"y":0.0539},{"s":"o","c":8,"x":-15.8,"y":0.0435},{"s":"o","c":8,"x":-14.8,"y":0.032},{"s":"o","c":8,"x":-13.5,"y":0.0187},
{"s":"g","c":1,"x":-31,"y":1},{"s":"g","c":1,"x":-29.5,"y":0.95},{"s":"g","c":1,"x":-28.5,"y":0.9},{"s":"g","c":1,"x":-27.9,"y":0.853},{"s":"g","c":1,"x":-27.3,"y":0.791},{"s":"g","c":1,"x":-26.4,"y":0.734},{"s":"g","c":1,"x":-25.9,"y":0.675},{"s":"g","c":1,"x":-25.2,"y":0.638},{"s":"g","c":1,"x":-24.7,"y":0.609},{"s":"g","c":1,"x":-24.2,"y":0.57},{"s":"g","c":1,"x":-23.7,"y":0.519},{"s":"g","c":1,"x":-23.3,"y":0.496},{"s":"g","c":1,"x":-22.8,"y":0.451},{"s":"g","c":1,"x":-22.4,"y":0.411},{"s":"g","c":1,"x":-22.1,"y":0.374},{"s":"g","c":1,"x":-21.9,"y":0.341},{"s":"g","c":1,"x":-21.5,"y":0.311},{"s":"g","c":1,"x":-21.1,"y":0.288},{"s":"g","c":1,"x":-18.7,"y":0.262},{"s":"g","c":1,"x":-18.6,"y":0.246},{"s":"g","c":1,"x":-17.8,"y":0.23},{"s":"g","c":1,"x":-17.8,"y":0.213},{"s":"g","c":1,"x":-17.5,"y":0.194},{"s":"g","c":1,"x":-16.6,"y":0.18},{"s":"g","c":1,"x":-16.4,"y":0.164},{"s":"g","c":1,"x":-16.2,"y":0.147},{"s":"g","c":1,"x":-15.6,"y":0.13},{"s":"g","c":1,"x":-15.3,"y":0.114},{"s":"g","c":1,"x":-15.2,"y":0.098},{"s":"g","c":1,"x":-15,"y":0.0815},{"s":"g","c":1,"x":-14.9,"y":0.0651},{"s":"g","c":1,"x":-14.5,"y":0.0487},{"s":"g","c":1,"x":-14.3,"y":0.0323},{"s":"g","c":1,"x":-13.5,"y":0.0307},{"s":"g","c":1,"x":-12.8,"y":0.0151},
{"s":"g","c":2,"x":-32,"y":1},{"s":"g","c":2,"x":-30.6,"y":0.96},{"s":"g","c":2,"x":-29.5,"y":0.9},{"s":"g","c":2,"x":-28.6,"y":0.8},{"s":"g","c":2,"x":-27.9,"y":0.7},{"s":"g","c":2,"x":-27.3,"y":0.615},{"s":"g","c":2,"x":-26.2,"y":0.587},{"s":"g","c":2,"x":-25.2,"y":0.52},{"s":"g","c":2,"x":-24.3,"y":0.496},{"s":"g","c":2,"x":-23.7,"y":0.451},{"s":"g","c":2,"x":-22.9,"y":0.411},{"s":"g","c":2,"x":-22.4,"y":0.364},{"s":"g","c":2,"x":-21.9,"y":0.331},{"s":"g","c":2,"x":-21.4,"y":0.302},{"s":"g","c":2,"x":-20.1,"y":0.246},{"s":"g","c":2,"x":-19.3,"y":0.228},{"s":"g","c":2,"x":-19.1,"y":0.21},{"s":"g","c":2,"x":-18.5,"y":0.191},{"s":"g","c":2,"x":-18,"y":0.14},{"s":"g","c":2,"x":-17.8,"y":0.122},{"s":"g","c":2,"x":-17.5,"y":0.104},{"s":"g","c":2,"x":-17,"y":0.0878},{"s":"g","c":2,"x":-16.2,"y":0.0694},{"s":"g","c":2,"x":-15.7,"y":0.0539},{"s":"g","c":2,"x":-15.4,"y":0.0487},{"s":"g","c":2,"x":-14.4,"y":0.0338},{"s":"g","c":2,"x":-14,"y":0.0159},
{"s":"g","c":3,"x":-31.3,"y":1},{"s":"g","c":3,"x":-30,"y":0.96},{"s":"g","c":3,"x":-29,"y":0.9},{"s":"g","c":3,"x":-28.2,"y":0.82},{"s":"g","c":3,"x":-27.5,"y":0.72},{"s":"g","c":3,"x":-26.9,"y":0.62},{"s":"g","c":3,"x":-26.3,"y":0.52},{"s":"g","c":3,"x":-25.7,"y":0.43},{"s":"g","c":3,"x":-25,"y":0.35},{"s":"g","c":3,"x":-24.2,"y":0.29},{"s":"g","c":3,"x":-23.4,"y":0.24},{"s":"g","c":3,"x":-22.6,"y":0.2},{"s":"g","c":3,"x":-22.1,"y":0.17},{"s":"g","c":3,"x":-21.4,"y":0.14},{"s":"g","c":3,"x":-20.4,"y":0.118},{"s":"g","c":3,"x":-19,"y":0.1},{"s":"g","c":3,"x":-18.3,"y":0.085},{"s":"g","c":3,"x":-17.5,"y":0.07},{"s":"g","c":3,"x":-17.1,"y":0.058},{"s":"g","c":3,"x":-16.3,"y":0.047},{"s":"g","c":3,"x":-15.5,"y":0.038},{"s":"g","c":3,"x":-14.8,"y":0.03},{"s":"g","c":3,"x":-13.9,"y":0.019},
{"s":"g","c":4,"x":-31.8,"y":1},{"s":"g","c":4,"x":-30.6,"y":0.96},{"s":"g","c":4,"x":-29.6,"y":0.9},{"s":"g","c":4,"x":-28.8,"y":0.82},{"s":"g","c":4,"x":-28.1,"y":0.72},{"s":"g","c":4,"x":-27.5,"y":0.62},{"s":"g","c":4,"x":-26.9,"y":0.52},{"s":"g","c":4,"x":-26.3,"y":0.43},{"s":"g","c":4,"x":-25.6,"y":0.35},{"s":"g","c":4,"x":-25,"y":0.29},{"s":"g","c":4,"x":-24,"y":0.23},{"s":"g","c":4,"x":-23,"y":0.2},{"s":"g","c":4,"x":-22.6,"y":0.16},{"s":"g","c":4,"x":-21.9,"y":0.13},{"s":"g","c":4,"x":-21,"y":0.107},{"s":"g","c":4,"x":-19.8,"y":0.096},{"s":"g","c":4,"x":-18.8,"y":0.09},{"s":"g","c":4,"x":-17.8,"y":0.08},{"s":"g","c":4,"x":-17.5,"y":0.068},{"s":"g","c":4,"x":-16.7,"y":0.056},{"s":"g","c":4,"x":-15.7,"y":0.045},{"s":"g","c":4,"x":-14.5,"y":0.032},{"s":"g","c":4,"x":-13.4,"y":0.0175},
{"s":"g","c":5,"x":-30.2,"y":1},{"s":"g","c":5,"x":-28.8,"y":0.95},{"s":"g","c":5,"x":-27.8,"y":0.88},{"s":"g","c":5,"x":-27,"y":0.8},{"s":"g","c":5,"x":-26.3,"y":0.71},{"s":"g","c":5,"x":-25.6,"y":0.62},{"s":"g","c":5,"x":-25,"y":0.53},{"s":"g","c":5,"x":-24.4,"y":0.45},{"s":"g","c":5,"x":-23.8,"y":0.38},{"s":"g","c":5,"x":-23.1,"y":0.32},{"s":"g","c":5,"x":-22.4,"y":0.27},{"s":"g","c":5,"x":-21.6,"y":0.22},{"s":"g","c":5,"x":-20.8,"y":0.18},{"s":"g","c":5,"x":-20,"y":0.15},{"s":"g","c":5,"x":-18.8,"y":0.12},{"s":"g","c":5,"x":-17.9,"y":0.1},{"s":"g","c":5,"x":-17.4,"y":0.08},{"s":"g","c":5,"x":-16.6,"y":0.058},{"s":"g","c":5,"x":-15.7,"y":0.039},{"s":"g","c":5,"x":-11,"y":0.0172},
{"s":"g","c":6,"x":-32.5,"y":1},{"s":"g","c":6,"x":-31.4,"y":0.96},{"s":"g","c":6,"x":-30.5,"y":0.9},{"s":"g","c":6,"x":-29.8,"y":0.82},{"s":"g","c":6,"x":-29.2,"y":0.72},{"s":"g","c":6,"x":-28.7,"y":0.62},{"s":"g","c":6,"x":-28.2,"y":0.52},{"s":"g","c":6,"x":-27.7,"y":0.43},{"s":"g","c":6,"x":-27.1,"y":0.35},{"s":"g","c":6,"x":-26.6,"y":0.28},{"s":"g","c":6,"x":-26,"y":0.22},{"s":"g","c":6,"x":-25.4,"y":0.17},{"s":"g","c":6,"x":-24.7,"y":0.13},{"s":"g","c":6,"x":-24,"y":0.1},{"s":"g","c":6,"x":-23.2,"y":0.08},{"s":"g","c":6,"x":-22.3,"y":0.0613},{"s":"g","c":6,"x":-20.8,"y":0.0537},{"s":"g","c":6,"x":-17.5,"y":0.0354},{"s":"g","c":6,"x":-17.8,"y":0.0184},
{"s":"g","c":7,"x":-33,"y":1},{"s":"g","c":7,"x":-32,"y":0.96},{"s":"g","c":7,"x":-31.2,"y":0.9},{"s":"g","c":7,"x":-30.5,"y":0.82},{"s":"g","c":7,"x":-29.9,"y":0.72},{"s":"g","c":7,"x":-29.4,"y":0.62},{"s":"g","c":7,"x":-28.9,"y":0.52},{"s":"g","c":7,"x":-28.5,"y":0.43},{"s":"g","c":7,"x":-28.1,"y":0.35},{"s":"g","c":7,"x":-27.7,"y":0.28},{"s":"g","c":7,"x":-27.3,"y":0.22},{"s":"g","c":7,"x":-27,"y":0.17},{"s":"g","c":7,"x":-26.7,"y":0.13},{"s":"g","c":7,"x":-26.4,"y":0.1},{"s":"g","c":7,"x":-26.1,"y":0.075},{"s":"g","c":7,"x":-25.9,"y":0.0539},{"s":"g","c":7,"x":-24.8,"y":0.0361},{"s":"g","c":7,"x":-24.6,"y":0.0182},
{"s":"g","c":8,"x":-32.8,"y":1},{"s":"g","c":8,"x":-31.7,"y":0.96},{"s":"g","c":8,"x":-30.8,"y":0.9},{"s":"g","c":8,"x":-30.1,"y":0.82},{"s":"g","c":8,"x":-29.5,"y":0.72},{"s":"g","c":8,"x":-29,"y":0.62},{"s":"g","c":8,"x":-28.5,"y":0.52},{"s":"g","c":8,"x":-28,"y":0.43},{"s":"g","c":8,"x":-27.5,"y":0.35},{"s":"g","c":8,"x":-27,"y":0.28},{"s":"g","c":8,"x":-26.5,"y":0.22},{"s":"g","c":8,"x":-26,"y":0.17},{"s":"g","c":8,"x":-25.5,"y":0.135},{"s":"g","c":8,"x":-25,"y":0.105},{"s":"g","c":8,"x":-24.5,"y":0.085},{"s":"g","c":8,"x":-24,"y":0.07},{"s":"g","c":8,"x":-23,"y":0.06},{"s":"g","c":8,"x":-20.8,"y":0.0372}
]
},
"vconcat":[
{
"width":580,"height":497,
"resolve":{"axis":{"y":"independent"}},
"layer":[
{"data":{"name":"A"},"mark":{"type":"line","strokeWidth":1.3},
"encoding":{
"x":{"field":"x","type":"quantitative","scale":{"domain":[-37.9,-8.0],"nice":false,"zero":false},
"axis":{"values":[-35,-30,-25,-20,-15,-10],"tickSize":15,"labelPadding":7,"labelFontSize":26,"labelExpr":"datum.value < 0 ? '-' + abs(datum.value) : '' + datum.value","title":null}},
"y":{"field":"y","type":"quantitative","scale":{"type":"log","domain":[0.0097,1],"nice":false},
"axis":{"orient":"left","values":[1,0.1],"tickSize":16,"labelFontSize":26,"labelPadding":13,"labelExpr":"datum.value >= 0.5 ? '1' : datum.value >= 0.05 ? '0.1' : '0.01'","title":"Fraction frozen","titleFontSize":26,"titleX":-76,"titleY":530,"titleBaseline":"alphabetic","titleAngle":270,"titleAlign":"center"}},
"color":{"field":"s","type":"nominal","scale":{"domain":["g","o","b"],"range":["#999900","#ff5500","#0088cc"]},
"legend":{"orient":"none","legendX":10,"legendY":353,"title":null,"fillColor":"white","strokeColor":"#222","padding":10,"labelFontSize":26,"labelColor":"#000","labelExpr":"datum.label == 'g' ? '10 μm' : datum.label == 'o' ? '0.2 μm' : '0.02 μm'","symbolSize":676,"symbolOffset":16,"labelOffset":29,"rowPadding":7.5,"symbolStrokeWidth":1.5}},
"detail":{"field":"c","type":"nominal"},
"order":{"field":"y","sort":"descending"}}},
{"data":{"name":"A"},"mark":{"type":"point","filled":true,"opacity":1,"size":145},
"encoding":{
"x":{"field":"x","type":"quantitative","axis":{"values":[-35,-30,-25,-20,-15,-10],"tickSize":15,"labelPadding":7,"labelFontSize":26,"labelExpr":"datum.value < 0 ? '-' + abs(datum.value) : '' + datum.value","title":null}},
"y":{"field":"y","type":"quantitative","axis":{"orient":"left","values":[0.9,0.8,0.7,0.6,0.5,0.4,0.3,0.2,0.09,0.08,0.07,0.06,0.05,0.04,0.03,0.02],"tickSize":10,"labelFontSize":16,"labelPadding":2,"domain":false,"title":null,"labelExpr":"datum.value == 0.8 || datum.value == 0.08 ? '8' : datum.value == 0.6 || datum.value == 0.06 ? '6' : datum.value == 0.4 || datum.value == 0.04 ? '4' : datum.value == 0.2 || datum.value == 0.02 ? '2' : ''"}},
"color":{"field":"s","type":"nominal",
"legend":{"orient":"none","legendX":10,"legendY":353,"title":null,"fillColor":"white","strokeColor":"#222","padding":10,"labelFontSize":26,"labelColor":"#000","labelExpr":"datum.label == 'g' ? '10 μm' : datum.label == 'o' ? '0.2 μm' : '0.02 μm'","symbolSize":676,"symbolOffset":16,"labelOffset":29,"rowPadding":7.5,"symbolStrokeWidth":1.5}},
"shape":{"field":"s","type":"nominal","scale":{"domain":["g","o","b"],"range":["M-2.27,0H2.27M0,-1L1,0L0,1L-1,0Z","M-2.27,0H2.27M0.83,0A0.83,0.83,0,1,1,-0.83,0A0.83,0.83,0,1,1,0.83,0Z","M-2.27,0H2.27M-0.92,-0.72L0.92,-0.72L0,0.9Z"]},
"legend":{"orient":"none","legendX":10,"legendY":353,"title":null,"fillColor":"white","strokeColor":"#222","padding":10,"labelFontSize":26,"labelColor":"#000","labelExpr":"datum.label == 'g' ? '10 μm' : datum.label == 'o' ? '0.2 μm' : '0.02 μm'","symbolSize":676,"symbolOffset":16,"labelOffset":29,"rowPadding":7.5,"symbolStrokeWidth":1.5}}}},
{"data":{"name":"la"},"mark":{"type":"point","opacity":0},
"encoding":{"strokeDash":{"field":"panel","type":"nominal","legend":{"orient":"none","legendX":354,"legendY":-6,"title":null,"fillColor":"white","strokeColor":"#222","padding":9,"labelFontSize":25,"labelColor":"#000","labelLimit":500,"symbolOpacity":0,"symbolSize":0,"symbolStrokeWidth":0,"labelOffset":-24}}}}
]
},
{
"width":580,"height":492,
"resolve":{"axis":{"y":"independent"}},
"layer":[
{"data":{"name":"B"},"mark":{"type":"line","strokeWidth":1.3},
"encoding":{
"x":{"field":"x","type":"quantitative","scale":{"domain":[-37.9,-8.0],"nice":false,"zero":false},
"axis":{"values":[-35,-30,-25,-20,-15,-10],"tickSize":15,"labelPadding":7,"labelFontSize":26,"labelExpr":"datum.value < 0 ? '-' + abs(datum.value) : '' + datum.value","title":"Temperature (°C)","titleFontSize":26,"titleY":83,"titleBaseline":"alphabetic"}},
"y":{"field":"y","type":"quantitative","scale":{"type":"log","domain":[0.01,1],"nice":false},
"axis":{"orient":"left","values":[1,0.1,0.01],"tickSize":16,"labelFontSize":26,"labelPadding":13,"labelExpr":"datum.value >= 0.5 ? '1' : datum.value >= 0.05 ? '0.1' : '0.01'","title":null}},
"color":{"field":"s","type":"nominal","scale":{"domain":["g","o","b"],"range":["#999900","#ff5500","#0088cc"]},"legend":null},
"detail":{"field":"c","type":"nominal"},
"order":{"field":"y","sort":"descending"}}},
{"data":{"name":"B"},"mark":{"type":"point","filled":true,"opacity":1,"size":145},
"encoding":{
"x":{"field":"x","type":"quantitative","axis":{"values":[-35,-30,-25,-20,-15,-10],"tickSize":15,"labelPadding":7,"labelFontSize":26,"labelExpr":"datum.value < 0 ? '-' + abs(datum.value) : '' + datum.value","title":"Temperature (°C)","titleFontSize":26,"titleY":83,"titleBaseline":"alphabetic"}},
"y":{"field":"y","type":"quantitative","axis":{"orient":"left","values":[0.9,0.8,0.7,0.6,0.5,0.4,0.3,0.2,0.09,0.08,0.07,0.06,0.05,0.04,0.03,0.02],"tickSize":10,"labelFontSize":16,"labelPadding":2,"domain":false,"title":null,"labelExpr":"datum.value == 0.8 || datum.value == 0.08 ? '8' : datum.value == 0.6 || datum.value == 0.06 ? '6' : datum.value == 0.4 || datum.value == 0.04 ? '4' : datum.value == 0.2 || datum.value == 0.02 ? '2' : ''"}},
"color":{"field":"s","type":"nominal","legend":null},
"shape":{"field":"s","type":"nominal","scale":{"domain":["g","o","b"],"range":["M-2.27,0H2.27M0,-1L1,0L0,1L-1,0Z","M-2.27,0H2.27M0.83,0A0.83,0.83,0,1,1,-0.83,0A0.83,0.83,0,1,1,0.83,0Z","M-2.27,0H2.27M-0.92,-0.72L0.92,-0.72L0,0.9Z"]},"legend":null}}},
{"data":{"name":"lb"},"mark":{"type":"point","opacity":0},
"encoding":{"strokeDash":{"field":"panel","type":"nominal","legend":{"orient":"none","legendX":355,"legendY":-11,"title":null,"fillColor":"white","strokeColor":"#222","padding":9,"labelFontSize":24,"labelColor":"#000","labelLimit":500,"symbolOpacity":0,"symbolSize":0,"symbolStrokeWidth":0,"labelOffset":-24}}}}
]
}
],
"resolve":{"scale":{"strokeDash":"independent"},"legend":{"shape":"independent","strokeDash":"independent","color":"independent"}},
"config":{
"font":"DejaVu Sans",
"view":{"stroke":null},
"axis":{"grid":false,"domainColor":"#222","tickColor":"#222","labelColor":"#000","titleColor":"#000","domainWidth":1.5,"tickWidth":1.5,"labelFont":"DejaVu Sans","titleFont":"DejaVu Sans","titleFontWeight":"normal","labelFlush":false,"labelOverlap":false},
"legend":{"labelFont":"DejaVu Sans","strokeWidth":1.5}
}
}
